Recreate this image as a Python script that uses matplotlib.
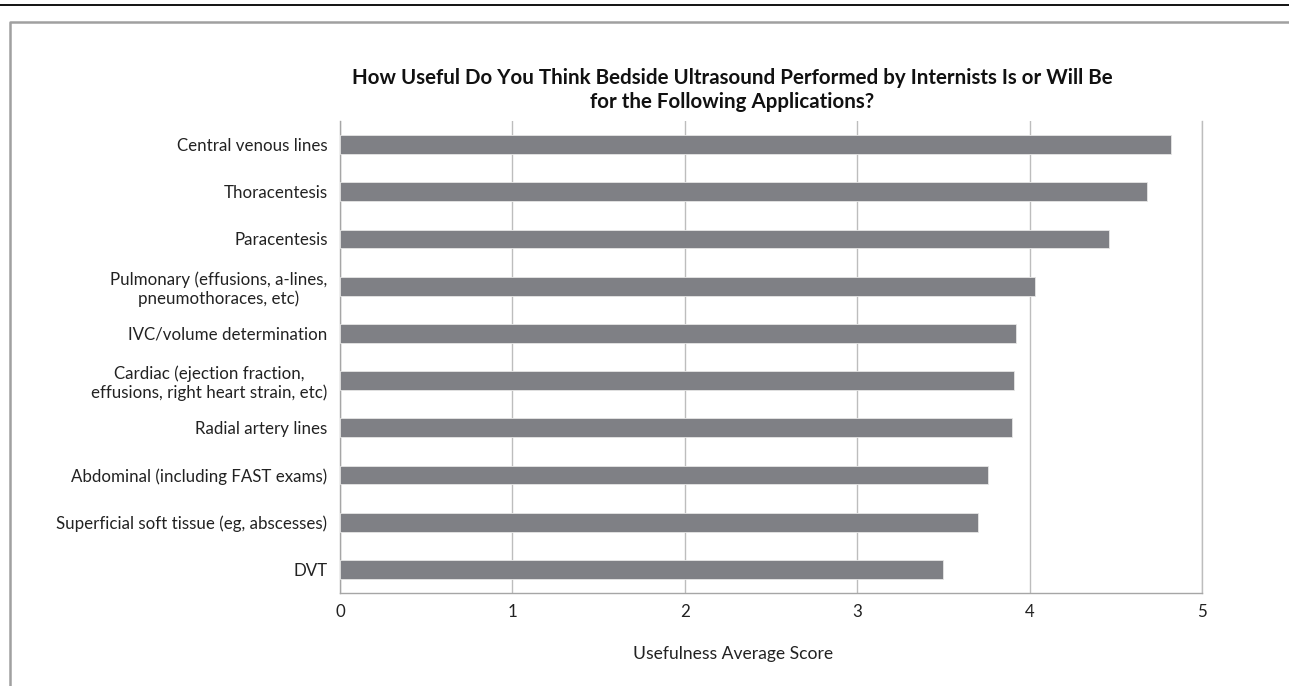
import matplotlib
matplotlib.use("Agg")
import matplotlib.pyplot as plt
from matplotlib.lines import Line2D

categories = [
    "Central venous lines",
    "Thoracentesis",
    "Paracentesis",
    "Pulmonary (effusions, a-lines,\npneumothoraces, etc)",
    "IVC/volume determination",
    "Cardiac (ejection fraction,\neffusions, right heart strain, etc)",
    "Radial artery lines",
    "Abdominal (including FAST exams)",
    "Superficial soft tissue (eg, abscesses)",
    "DVT",
]
scores = [4.82, 4.68, 4.46, 4.03, 3.92, 3.91, 3.90, 3.76, 3.70, 3.50]
xticks = [0, 1, 2, 3, 4, 5]

plt.rcParams['font.family'] = ['Lato', 'DejaVu Sans']

W, H = 1289, 686
fig = plt.figure(figsize=(W / 100, H / 100), dpi=100)
ax = fig.add_axes([340 / W, 1 - 593 / H, (1202 - 340) / W, (593 - 121) / H])

ypos = list(range(len(categories)))
ax.barh(ypos, scores, height=0.4, color='#7f8085', edgecolor='#e6e6e6',
        linewidth=0.6, zorder=3)
ax.set_ylim(len(categories) - 0.5, -0.5)
ax.set_xlim(0, 5)
ax.set_xticks(xticks)
ax.set_xticklabels([str(t) for t in xticks])
ax.set_yticks(ypos)
ax.set_yticklabels(categories, ha='right', multialignment='center')
ax.tick_params(axis='both', length=0, labelsize=12.2, colors='#222222')
ax.tick_params(axis='y', pad=9)
ax.tick_params(axis='x', pad=8)
ax.grid(axis='x', color='#bdbdbd', linewidth=1.0, zorder=0)
ax.spines['top'].set_visible(False)
ax.spines['right'].set_color('#bdbdbd')
ax.spines['right'].set_linewidth(1.0)
for s in ['left', 'bottom']:
    ax.spines[s].set_color('#a6a6a6')
    ax.spines[s].set_linewidth(1.0)

fig.text(732 / W, 1 - 90 / H,
         "How Useful Do You Think Bedside Ultrasound Performed by Internists Is or Will Be\nfor the Following Applications?",
         ha='center', va='center', fontsize=14.8, fontweight='bold',
         color='#111111', linespacing=1.2)
fig.text(733 / W, 1 - 654 / H, "Usefulness Average Score", ha='center',
         va='center', fontsize=12.6, color='#222222')

# outer decorations
fig.add_artist(Line2D([0, 1], [1 - 5 / H, 1 - 5 / H], color='black',
                      linewidth=1.3, transform=fig.transFigure))
fig.add_artist(Line2D([10 / W, 10 / W, 1.01], [-0.01, 1 - 22 / H, 1 - 22 / H],
                      color='#a0a0a0', linewidth=1.8, transform=fig.transFigure))

fig.savefig("out.png", dpi=100)
